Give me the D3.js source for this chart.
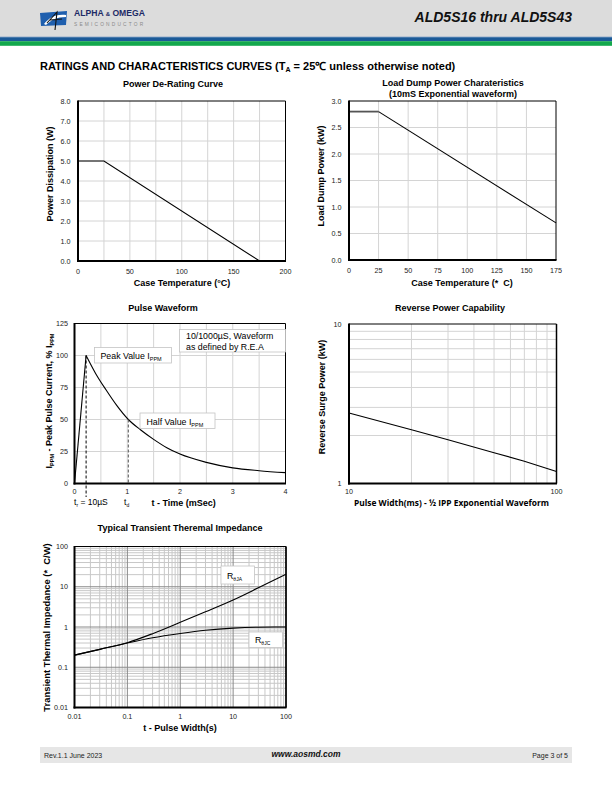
<!DOCTYPE html>
<html><head><meta charset="utf-8">
<script src="https://cdn.jsdelivr.net/npm/d3@7"></script>
<style>
html,body{margin:0;padding:0;background:#fff;}
svg text{font-family:"Liberation Sans",Arial,sans-serif;white-space:pre;}
</style></head>
<body>
<svg id="page" width="612" height="792"></svg>
<script>
// ---------- DATA ----------
// Chart 1: Power De-Rating Curve
const derateTemp = [0, 25, 175];
const deratePower = [5.0, 5.0, 0.0];
const derateXTicks = [0, 50, 100, 150, 200];
const derateYTicks = [0, 1, 2, 3, 4, 5, 6, 7, 8];

// Chart 2: Load Dump Power
const dumpTemp = [0, 25, 175];
const dumpPower = [2.8, 2.8, 0.7];
const dumpXTicks = [0, 25, 50, 75, 100, 125, 150, 175];
const dumpYTicks = [0, 0.5, 1.0, 1.5, 2.0, 2.5, 3.0];

// Chart 3: Pulse Waveform
const pulseRiseT = [0, 0.22];
const pulseRiseV = [0, 100];
const pulseDecayT = [0.22, 0.4, 0.6, 0.8, 1.02, 1.25, 1.5, 1.75, 2.0, 2.5, 3.0, 3.5, 4.0];
const pulseDecayV = [100, 86, 73, 61, 50, 42, 34.5, 28, 23, 16.5, 12.2, 10, 8.5];
const pulseXTicks = [0, 1, 2, 3, 4];
const pulseXGrid = [0.5, 1, 1.5, 2, 2.5, 3, 3.5];
const pulseYTicks = [0, 25, 50, 75, 100, 125];
const pulsePeakT = 0.22, pulseHalfT = 1.02;

// Chart 4: Reverse Power Capability
const revWidth = [10, 20, 30, 50, 70, 100];
const revPower = [2.77, 2.17, 1.88, 1.56, 1.38, 1.19];
const revXTicks = [10, 100];
const revYTicks = [1, 10];

// Chart 5: Transient Thermal Impedance
const zthTime = [0.01, 0.03, 0.1, 0.3, 1, 3, 10, 30, 100];
const zthJA = [0.2, 0.278, 0.408, 0.684, 1.31, 2.39, 4.7, 9.4, 20.5];
const zthJC = [0.2, 0.278, 0.4, 0.54, 0.69, 0.83, 0.94, 0.99, 1.0];
const zthTicks = [0.01, 0.1, 1, 10, 100];

// ---------- HELPERS ----------
const svg = d3.select("#page");
const GRID = "#d4d4d4";
const TICKC = "#222";

function frame(g, x0, x1, y0, y1) {
  g.append("line").attr("x1", x0).attr("x2", x1).attr("y1", y0).attr("y2", y0).attr("stroke", "#000").attr("stroke-width", 1);
  g.append("line").attr("x1", x1).attr("x2", x1).attr("y1", y0).attr("y2", y1).attr("stroke", "#000").attr("stroke-width", 1);
  g.append("line").attr("x1", x0).attr("x2", x0).attr("y1", y0 - 0.5).attr("y2", y1 + 1).attr("stroke", "#000").attr("stroke-width", 2);
  g.append("line").attr("x1", x0 - 1).attr("x2", x1 + 0.5).attr("y1", y1).attr("y2", y1).attr("stroke", "#000").attr("stroke-width", 2);
}
function vgrid(g, xs, vals, y0, y1, color, w) {
  g.selectAll(null).data(vals).enter().append("line")
    .attr("x1", d => xs(d)).attr("x2", d => xs(d)).attr("y1", y0).attr("y2", y1)
    .attr("stroke", color || GRID).attr("stroke-width", w || 1);
}
function hgrid(g, ys, vals, x0, x1, color, w) {
  g.selectAll(null).data(vals).enter().append("line")
    .attr("y1", d => ys(d)).attr("y2", d => ys(d)).attr("x1", x0).attr("x2", x1)
    .attr("stroke", color || GRID).attr("stroke-width", w || 1);
}
function xLabels(g, xs, vals, y, fmt) {
  g.selectAll(null).data(vals).enter().append("text")
    .attr("x", d => xs(d)).attr("y", y).attr("text-anchor", "middle")
    .attr("font-size", 7.2).attr("fill", TICKC).text(fmt);
}
function yLabels(g, ys, vals, x, fmt) {
  g.selectAll(null).data(vals).enter().append("text")
    .attr("x", x).attr("y", d => ys(d) + 2.5).attr("text-anchor", "end")
    .attr("font-size", 7.2).attr("fill", TICKC).text(fmt);
}
function title(txt, x, y) {
  svg.append("text").attr("x", x).attr("y", y).attr("text-anchor", "middle")
    .attr("font-size", 9).attr("font-weight", "bold").text(txt);
}
function xTitle(txt, x, y, fam) {
  const t = svg.append("text").attr("x", x).attr("y", y).attr("text-anchor", "middle")
    .attr("font-size", 9).attr("font-weight", "bold").text(txt);
  if (fam) t.style("font-family", fam);
  return t;
}
function yTitle(x, y) {
  return svg.append("text").attr("transform", `translate(${x},${y}) rotate(-90)`)
    .attr("text-anchor", "middle").attr("font-size", 9).attr("font-weight", "bold");
}
function logMinor(lo, hi) {
  const out = [];
  for (let d = lo; d < hi; d *= 10) for (let k = 2; k <= 9; k++) out.push(d * k);
  return out;
}

// ---------- HEADER ----------
svg.append("rect").attr("x", 0).attr("y", 0).attr("width", 612).attr("height", 37).attr("fill", "#dcdcdc");
svg.append("rect").attr("x", 0).attr("y", 36).attr("width", 612).attr("height", 1.2).attr("fill", "#b8c4d4");
svg.append("rect").attr("x", 0).attr("y", 37.2).attr("width", 612).attr("height", 4).attr("fill", "#1b5a98");
svg.append("rect").attr("x", 0).attr("y", 41.2).attr("width", 612).attr("height", 4.6).attr("fill", "#13a84c");
// logo
const logo = svg.append("g");
logo.append("path").attr("d", "M40,13 L67,11 L66,25 L41,26 Z").attr("fill", "#1f5fae");
logo.append("path").attr("d", "M44,24 C50,17 56,14 66,15 L66,17 C57,17 51,20 46,25 Z").attr("fill", "#fff");
logo.append("path").attr("d", "M47,23 L57,12 L55,30 M50,20 L62,19").attr("fill", "none").attr("stroke", "#111").attr("stroke-width", 1.1);
svg.append("text").attr("x", 74).attr("y", 15.5).attr("font-size", 8.6).attr("font-weight", "bold").attr("fill", "#1c2a66")
  .html('ALPHA <tspan font-size="6">&amp;</tspan> OMEGA');
svg.append("text").attr("x", 74).attr("y", 25.5).attr("font-size", 4.8).attr("fill", "#8a8a8a").attr("letter-spacing", 2.2).text("SEMICONDUCTOR");
svg.append("text").attr("x", 572).attr("y", 22).attr("text-anchor", "end").attr("font-size", 14)
  .attr("font-weight", "bold").attr("font-style", "italic").attr("fill", "#111").text("ALD5S16 thru ALD5S43");

// section heading
svg.append("text").attr("x", 40).attr("y", 70).attr("font-size", 11).attr("font-weight", "bold")
  .html('RATINGS AND CHARACTERISTICS CURVES (T<tspan font-size="7" dy="2">A</tspan><tspan dy="-2"> = 25℃ unless otherwise noted)</tspan>');

// ---------- CHART 1 ----------
{
  const x = d3.scaleLinear().domain([0, 200]).range([78, 285.5]);
  const y = d3.scaleLinear().domain([0, 8]).range([261, 101]);
  const g = svg.append("g");
  vgrid(g, x, d3.range(25, 200, 25), 101, 261);
  hgrid(g, y, derateYTicks.slice(1, -1), 78, 285.5);
  const line = d3.line().x((d, i) => x(derateTemp[i])).y(d => y(d));
  g.append("path").attr("d", line(deratePower)).attr("fill", "none").attr("stroke", "#000").attr("stroke-width", 1.1);
  frame(g, 78, 285.5, 101, 261);
  xLabels(g, x, derateXTicks, 273.5, d => d);
  yLabels(g, y, derateYTicks, 70.5, d3.format(".1f"));
  title("Power De-Rating Curve", 173, 87);
  xTitle("Case Temperature (°C)", 182, 285.5);
  yTitle(53, 174).text("Power Dissipation (W)");
}

// ---------- CHART 2 ----------
{
  const x = d3.scaleLinear().domain([0, 175]).range([349, 556]);
  const y = d3.scaleLinear().domain([0, 3]).range([260, 101]);
  const g = svg.append("g");
  vgrid(g, x, dumpXTicks.slice(1, -1), 101, 260);
  hgrid(g, y, dumpYTicks.slice(1, -1), 349, 556);
  g.append("path").attr("d", d3.line().x((d, i) => x(dumpTemp[i])).y(d => y(d))(dumpPower.slice(0, 2)))
    .attr("fill", "none").attr("stroke", "#555").attr("stroke-width", 1.8);
  g.append("path").attr("d", d3.line().x((d, i) => x(dumpTemp[i + 1])).y(d => y(d))(dumpPower.slice(1)))
    .attr("fill", "none").attr("stroke", "#000").attr("stroke-width", 1.1);
  frame(g, 349, 556, 101, 260);
  xLabels(g, x, dumpXTicks, 272.5, d => d);
  yLabels(g, y, dumpYTicks, 341.5, d3.format(".1f"));
  title("Load Dump Power Charateristics", 453, 85.5);
  title("(10mS Exponential waveform)", 453, 97);
  xTitle("Case Temperature (*  C)", 462, 285.5);
  yTitle(324, 176).text("Load Dump Power (kW)");
}

// ---------- CHART 3 ----------
{
  const x = d3.scaleLinear().domain([0, 4]).range([74.5, 285.5]);
  const y = d3.scaleLinear().domain([0, 125]).range([483.5, 323.5]);
  const g = svg.append("g");
  vgrid(g, x, pulseXGrid, 323.5, 483.5);
  hgrid(g, y, pulseYTicks.slice(1, -1), 74.5, 285.5);
  g.append("path").attr("d", d3.line().x((d, i) => x(pulseRiseT[i])).y(d => y(d))(pulseRiseV))
    .attr("fill", "none").attr("stroke", "#000").attr("stroke-width", 1.1);
  g.append("path").attr("d", d3.line().curve(d3.curveMonotoneX).x((d, i) => x(pulseDecayT[i])).y(d => y(d))(pulseDecayV))
    .attr("fill", "none").attr("stroke", "#000").attr("stroke-width", 1.1);
  // dashed markers
  g.append("line").attr("x1", x(pulsePeakT)).attr("x2", x(pulsePeakT)).attr("y1", y(100)).attr("y2", 497)
    .attr("stroke", "#000").attr("stroke-width", 1).attr("stroke-dasharray", "3,2");
  g.append("line").attr("x1", x(pulseHalfT)).attr("x2", x(pulseHalfT)).attr("y1", y(50)).attr("y2", 483)
    .attr("stroke", "#555").attr("stroke-width", 1).attr("stroke-dasharray", "3,2");
  frame(g, 74.5, 285.5, 323.5, 483.5);
  xLabels(g, x, pulseXTicks, 494, d => d);
  yLabels(g, y, pulseYTicks, 68, d => d);
  // annotation boxes
  const box = (x0, y0, w, h) => g.append("rect").attr("x", x0).attr("y", y0).attr("width", w).attr("height", h)
    .attr("fill", "#fff").attr("stroke", "#c4c4c4").attr("stroke-width", 0.8);
  box(94.5, 347.5, 77, 15.5);
  g.append("text").attr("x", 100.5).attr("y", 358.5).attr("font-size", 8.8)
    .html('Peak Value I<tspan font-size="5.5" dy="2">PPM</tspan>');
  box(140, 413, 75, 15.5);
  g.append("text").attr("x", 146.5).attr("y", 424.5).attr("font-size", 8.8)
    .html('Half Value I<tspan font-size="5.5" dy="2">PPM</tspan>');
  box(179.5, 329.5, 106, 22.5);
  g.append("text").attr("x", 186).attr("y", 339).attr("font-size", 8.8).text("10/1000µS, Waveform");
  g.append("text").attr("x", 186).attr("y", 349.5).attr("font-size", 8.8).text("as defined by R.E.A");
  title("Pulse Waveform", 163, 310.5);
  svg.append("text").attr("x", 74).attr("y", 505).attr("font-size", 8.5)
    .html('t<tspan font-size="5" dy="1.5">r</tspan><tspan dy="-1.5"> = 10µS</tspan>');
  svg.append("text").attr("x", 124).attr("y", 505).attr("font-size", 8.5)
    .html('t<tspan font-size="5" dy="1.5">d</tspan>');
  svg.append("text").attr("x", 151.5).attr("y", 505.5).attr("font-size", 9).attr("font-weight", "bold").text("t - Time (mSec)");
  yTitle(52, 401).html('I<tspan font-size="5.5" dy="2">PPM</tspan><tspan dy="-2"> - Peak Pulse Current, % I</tspan><tspan font-size="5.5" dy="2">PPM</tspan>');
}

// ---------- CHART 4 ----------
{
  const x = d3.scaleLog().domain([10, 100]).range([349, 556.5]);
  const y = d3.scaleLog().domain([1, 10]).range([483.5, 324]);
  const g = svg.append("g");
  vgrid(g, x, logMinor(10, 100), 324, 483.5);
  hgrid(g, y, logMinor(1, 10), 349, 556.5);
  g.append("path").attr("d", d3.line().x((d, i) => x(revWidth[i])).y(d => y(d))(revPower))
    .attr("fill", "none").attr("stroke", "#000").attr("stroke-width", 1.1);
  frame(g, 349, 556.5, 324, 483.5);
  g.append("line").attr("x1", 556.5).attr("x2", 556.5).attr("y1", 324).attr("y2", 483.5).attr("stroke", "#000").attr("stroke-width", 1.5);
  xLabels(g, x, revXTicks, 494, d => d);
  yLabels(g, y, revYTicks, 341.5, d => d);
  title("Reverse Power Capability", 450, 310.5);
  xTitle("Pulse Width(ms) - ½ IPP Exponential Waveform", 451.5, 506, "'Open Sans',sans-serif").attr("font-size", 8.4);
  yTitle(325, 397).text("Reverse Surge Power (kW)");
}

// ---------- CHART 5 ----------
{
  const x = d3.scaleLog().domain([0.01, 100]).range([74.5, 286]);
  const y = d3.scaleLog().domain([0.01, 100]).range([707.5, 546.5]);
  const g = svg.append("g");
  vgrid(g, x, logMinor(0.01, 100), 546.5, 707.5, "#c8c8c8");
  hgrid(g, y, logMinor(0.01, 100), 74.5, 286, "#c8c8c8");
  vgrid(g, x, zthTicks.slice(1, -1), 546.5, 707.5, "#8a8a8a");
  hgrid(g, y, zthTicks.slice(1, -1), 74.5, 286, "#8a8a8a");
  const ln = d3.line().curve(d3.curveMonotoneX).x((d, i) => x(zthTime[i])).y(d => y(d));
  g.append("path").attr("d", ln(zthJA)).attr("fill", "none").attr("stroke", "#000").attr("stroke-width", 1.1);
  g.append("path").attr("d", ln(zthJC)).attr("fill", "none").attr("stroke", "#000").attr("stroke-width", 1.1);
  frame(g, 74.5, 286, 546.5, 707.5);
  g.append("line").attr("x1", 286).attr("x2", 286).attr("y1", 546.5).attr("y2", 707.5).attr("stroke", "#000").attr("stroke-width", 1.5);
  const box = (x0, y0, w, h) => g.append("rect").attr("x", x0).attr("y", y0).attr("width", w).attr("height", h)
    .attr("fill", "#fff").attr("stroke", "#c4c4c4").attr("stroke-width", 0.8);
  box(221, 566, 33.5, 18);
  g.append("text").attr("x", 227).attr("y", 578.5).attr("font-size", 8.8).html('R<tspan font-size="5" dy="2">θJA</tspan>');
  box(249, 632, 33.5, 15.5);
  g.append("text").attr("x", 255).attr("y", 643).attr("font-size", 8.8).html('R<tspan font-size="5" dy="2">θJC</tspan>');
  xLabels(g, x, zthTicks, 719, d => d);
  yLabels(g, y, zthTicks, 68, d => d);
  title("Typical Transient Theremal Impedance", 180, 531);
  xTitle("t - Pulse Width(s)", 180, 730.5);
  yTitle(50, 627.5).text("Transient Thermal Impedance (*  C/W)").attr("font-size", 9.4);
}

// ---------- FOOTER ----------
svg.append("rect").attr("x", 40).attr("y", 747).attr("width", 532).attr("height", 16).attr("fill", "#e6e6e6");
svg.append("text").attr("x", 44).attr("y", 757.5).attr("font-size", 7).attr("fill", "#222").text("Rev.1.1 June 2023");
svg.append("text").attr("x", 306).attr("y", 757).attr("text-anchor", "middle").attr("font-size", 8.5)
  .attr("font-weight", "bold").attr("font-style", "italic").attr("fill", "#111").text("www.aosmd.com");
svg.append("text").attr("x", 568).attr("y", 757.5).attr("text-anchor", "end").attr("font-size", 7).attr("fill", "#222").text("Page 3 of 5");
</script>
</body></html>
